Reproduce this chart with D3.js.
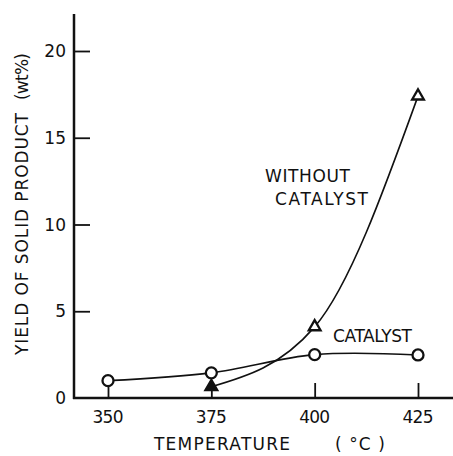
<!DOCTYPE html>
<html>
<head>
<meta charset="UTF-8">
<script src="https://d3js.org/d3.v7.min.js"></script>
<style>
  body { margin: 0; background: #fff; }
  text { font-family: "DejaVu Sans", sans-serif; fill: #111; }
</style>
</head>
<body>
<div id="chart"></div>
<script>
const temps = [350, 375, 400, 425];
const catalyst = [1.0, 1.45, 2.5, 2.48];
const noCatTemps = [375, 400, 425];
const noCatalyst = [0.65, 4.1, 17.4];
const yTicks = [0, 5, 10, 15, 20];

const W = 453, H = 456;
const svg = d3.select("#chart").append("svg")
  .attr("width", W).attr("height", H);

const x = d3.scaleLinear().domain([350, 425]).range([108, 418]);
const y = d3.scaleLinear().domain([0, 20]).range([398, 51]);

const ink = "#111";

// axes lines
svg.append("line").attr("x1", 74).attr("x2", 74).attr("y1", 14).attr("y2", 399)
  .attr("stroke", ink).attr("stroke-width", 2.5);
svg.append("line").attr("x1", 73).attr("x2", 453).attr("y1", 398).attr("y2", 398)
  .attr("stroke", ink).attr("stroke-width", 2.5);

// y ticks inward
const yAxis = svg.append("g").attr("transform", "translate(74,0)")
  .call(d3.axisRight(y).tickValues(yTicks.slice(1)).tickSize(16).tickFormat(""));
yAxis.select(".domain").remove();
yAxis.selectAll("line").attr("stroke", ink).attr("stroke-width", 1.8);
svg.selectAll(".ylab").data(yTicks).join("text")
  .attr("x", 66).attr("y", d => y(d) + 6)
  .attr("text-anchor", "end").style("font-size", "17px")
  .text(d => d);

// x ticks inward
const xAxis = svg.append("g").attr("transform", "translate(0,398)")
  .call(d3.axisTop(x).tickValues(temps).tickSize(15).tickFormat(""));
xAxis.select(".domain").remove();
xAxis.selectAll("line").attr("stroke", ink).attr("stroke-width", 1.8);
svg.selectAll(".xlab").data(temps).join("text")
  .attr("x", d => x(d)).attr("y", 423)
  .attr("text-anchor", "middle").style("font-size", "17px")
  .attr("textLength", 31).attr("lengthAdjust", "spacing")
  .text(d => d);

// axis titles
svg.append("text").attr("x", 154).attr("y", 450)
  .style("font-size", "17px")
  .attr("textLength", 136).attr("lengthAdjust", "spacing")
  .text("TEMPERATURE");
svg.append("text").attr("x", 335).attr("y", 450)
  .style("font-size", "17px")
  .attr("xml:space", "preserve")
  .attr("textLength", 50).attr("lengthAdjust", "spacing")
  .text("( °C )");
svg.append("text")
  .attr("transform", "translate(28,355) rotate(-90)")
  .style("font-size", "17px")
  .attr("textLength", 242).attr("lengthAdjust", "spacing")
  .text("YIELD OF SOLID PRODUCT");
svg.append("text")
  .attr("transform", "translate(28,100) rotate(-90)")
  .style("font-size", "17px")
  .attr("textLength", 47).attr("lengthAdjust", "spacing")
  .text("(wt%)");

// curves
const catData = temps.map((t, i) => ({ t, v: catalyst[i] }));
const noCatData = noCatTemps.map((t, i) => ({ t, v: noCatalyst[i] }));

const catLine = d3.line().x(d => x(d.t)).y(d => y(d.v)).curve(d3.curveCatmullRom.alpha(0.5));
const noCatLine = d3.line().x(d => x(d.t)).y(d => y(d.v)).curve(d3.curveMonotoneX);
svg.append("path").attr("d", catLine(catData))
  .attr("fill", "none").attr("stroke", ink).attr("stroke-width", 1.6);
svg.append("path").attr("d", noCatLine(noCatData))
  .attr("fill", "none").attr("stroke", ink).attr("stroke-width", 1.6);

// markers
svg.selectAll(".circ").data(catData).join("circle")
  .attr("cx", d => x(d.t)).attr("cy", d => y(d.v)).attr("r", 5.5)
  .attr("fill", "#fff").attr("stroke", ink).attr("stroke-width", 2.3);

const tri = d3.symbol().type(d3.symbolTriangle).size(60);
svg.selectAll(".tri").data(noCatData).join("path")
  .attr("transform", d => `translate(${x(d.t)},${y(d.v)})`)
  .attr("d", tri)
  .attr("fill", (d, i) => i === 0 ? ink : "#fff")
  .attr("stroke", ink).attr("stroke-width", 2.3);

// labels
svg.append("text").attr("x", 265).attr("y", 182).style("font-size", "17px")
  .attr("textLength", 85).attr("lengthAdjust", "spacing").text("WITHOUT");
svg.append("text").attr("x", 275).attr("y", 205).style("font-size", "17px")
  .attr("textLength", 93).attr("lengthAdjust", "spacing").text("CATALYST");
svg.append("text").attr("x", 333).attr("y", 342).style("font-size", "17px")
  .attr("textLength", 79).attr("lengthAdjust", "spacing").text("CATALYST");
</script>
</body>
</html>
